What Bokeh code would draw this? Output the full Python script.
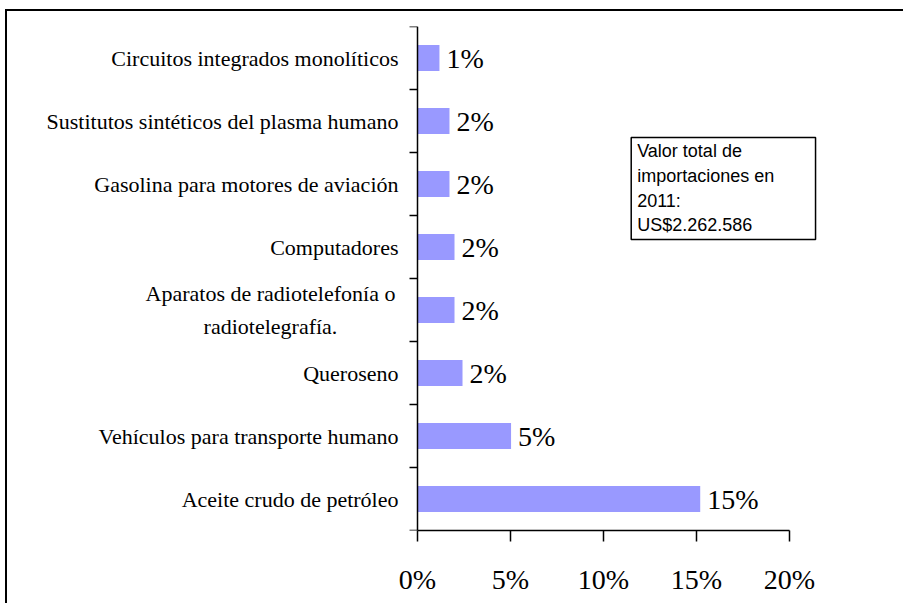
from bokeh.plotting import figure
from bokeh.models import Range1d, FixedTicker, BoxAnnotation, Label, ColumnDataSource
from bokeh.core.properties import value
from bokeh.embed import file_html
from bokeh.resources import INLINE

# data (bottom to top)
categories = [
    "Aceite crudo de petróleo",
    "Vehículos para transporte humano",
    "Queroseno",
    "Aparatos de radiotelefonía o\nradiotelegrafía.",
    "Computadores",
    "Gasolina para motores de aviación",
    "Sustitutos sintéticos del plasma humano",
    "Circuitos integrados monolíticos",
]
shares = [15.2, 5.03, 2.42, 1.99, 1.99, 1.72, 1.72, 1.18]
x_ticks = [0, 5, 10, 15, 20]
x_tick_labels = ["0%", "5%", "10%", "15%", "20%"]
note_text = "Valor total de\nimportaciones en\n2011:\nUS$2.262.586"

pos = [i + 0.5 for i in range(len(categories))]
labels = [f"{round(v)}%" for v in shares]
src = ColumnDataSource(dict(y=pos, v=shares, lab=labels))

# frame spans canvas x 10..880, axis zero sits at canvas x 417 (18.6 px per %)
px_per_unit = 18.6
x_start = -(417 - 10) / px_per_unit
x_end = (880 - 417) / px_per_unit

p = figure(width=903, height=603, output_backend="svg", toolbar_location=None,
           x_range=Range1d(x_start, x_end), y_range=Range1d(0, len(categories)),
           min_border_left=10, min_border_right=23, min_border_top=26, min_border_bottom=73)
p.outline_line_color = None
p.xgrid.visible = False
p.ygrid.visible = False
p.background_fill_color = "white"
p.border_fill_color = None
p.styles = {"box-shadow": "inset 5px 9px 0 0 white, inset 7px 11px 0 0 black",
            "background-color": "white"}

p.hbar(y="y", right="v", left=0, height=0.41, source=src, color="#9999FF", line_color=None)
p.text(x="v", y="y", text="lab", source=src, x_offset=7, text_baseline="middle",
       text_align="left", text_font=value("Liberation Serif"), text_font_size="28px",
       text_color="black")

# x axis
xa = p.xaxis[0]
xa.bounds = (0, 20)
xa.ticker = FixedTicker(ticks=x_ticks, minor_ticks=[])
xa.major_label_overrides = {t: l for t, l in zip(x_ticks, x_tick_labels)}
xa.major_label_text_font = "Liberation Serif"
xa.major_label_text_font_size = "28px"
xa.major_label_text_color = "black"
xa.major_tick_out = 11
xa.major_tick_in = 0
xa.major_label_standoff = 22
xa.axis_line_color = "black"
xa.axis_line_width = 1.5
xa.major_tick_line_color = "black"
xa.major_tick_line_width = 1.5

# y axis, fixed at x = 0 (multi-line category drawn as a centred label)
multi_idx = 3
ya = p.yaxis[0]
ya.fixed_location = 0
ya.ticker = FixedTicker(ticks=pos, minor_ticks=list(range(len(categories) + 1)))
ya.major_label_overrides = {t: ("" if i == multi_idx else c)
                            for i, (t, c) in enumerate(zip(pos, categories))}
ya.major_label_text_font = "Liberation Serif"
ya.major_label_text_font_size = "22px"
ya.major_label_text_color = "black"
ya.major_tick_line_color = None
ya.major_tick_out = 0
ya.major_tick_in = 0
ya.minor_tick_out = 8
ya.minor_tick_in = 0
ya.minor_tick_line_color = "black"
ya.minor_tick_line_width = 1.5
ya.major_label_standoff = 11
ya.axis_line_color = "black"
ya.axis_line_width = 1.5

multi = Label(x=-147, x_units="screen", y=pos[multi_idx], text=categories[multi_idx],
              text_font="Liberation Serif", text_font_size="22px", text_align="center",
              text_baseline="middle", text_color="black", text_line_height=1.3)
multi.x = -147 / px_per_unit
multi.x_units = "data"
p.add_layout(multi)

box = BoxAnnotation(left=11.49, right=21.4, top=6.238, bottom=4.619,
                    fill_color="white", fill_alpha=1.0, line_color="black",
                    line_alpha=1.0, line_width=1.5)
p.add_layout(box)
note = Label(x=11.81, y=6.175, text=note_text, text_font="Liberation Sans",
             text_font_size="18px", text_baseline="top", text_align="left",
             text_color="black", text_line_height=1.23)
p.add_layout(note)

open("out.html", "w").write(file_html(p, INLINE))
